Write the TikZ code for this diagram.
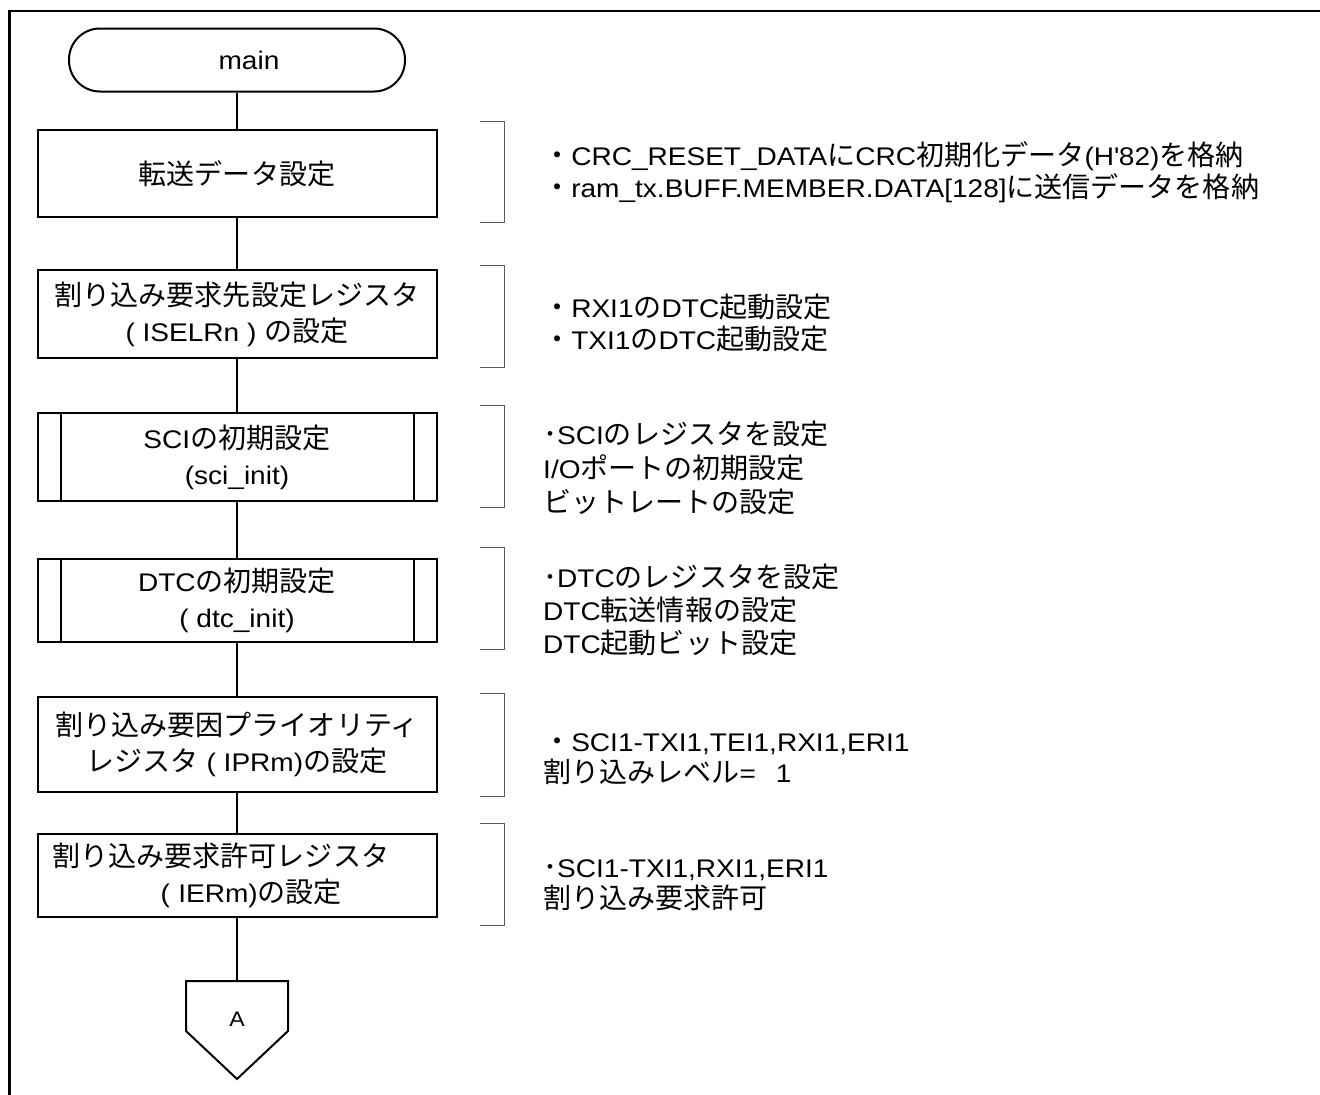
\documentclass[tikz,border=0pt]{standalone}
\usepackage{fontspec}
\setmainfont{Liberation Sans}[FakeStretch=1.1]
\newfontfamily\jpf{Noto Sans CJK JP}[Scale=1.1]
\newcommand\J[1]{{\jpf #1}}
\begin{document}
\begin{tikzpicture}[x=1pt,y=-1pt]
\tikzset{
  flow/.style={draw, line width=2pt, minimum width=399pt, inner sep=0pt, align=center,
    font=\fontsize{25.5}{36}\selectfont},
  term/.style={draw, line width=2pt, rounded corners=31pt, minimum width=336pt,
    minimum height=63pt, inner sep=0pt, font=\fontsize{25.5}{30}\selectfont},
  note/.style={anchor=west, align=left, inner sep=0pt, font=\fontsize{25.5}{32.5}\selectfont},
  brk/.style={draw=black!65, line width=1pt},
  conn/.style={line width=2pt},
  frame/.style={line width=2.5pt},
}
\useasboundingbox (0,0) rectangle (1320,1095);
\draw[frame] (9.5,1095) -- (9.5,11) -- (1320,11);

% flow nodes
\node[term] (main) at (237,60) {\hspace*{24pt}main};
\node[flow, minimum height=87pt] (b1) at (237,173.5) {\J{転送データ設定}};
\node[flow, minimum height=88pt] (b2) at (237,314) {\J{割り込み要求先設定レジスタ}\\( ISELRn ) \J{の設定}};
\node[flow, minimum height=88pt] (b3) at (237,457) {SCI\J{の初期設定}\\(sci\_init)};
\node[flow, minimum height=83pt] (b4) at (237,600.5) {DTC\J{の初期設定}\\( dtc\_init)};
\node[flow, minimum height=95pt] (b5) at (237,744.5) {\J{割り込み要因プライオリティ}\\\J{レジスタ} ( IPRm)\J{の設定}};
\node[flow, minimum height=83pt, align=left, inner xsep=15pt, text width=369pt] (b6) at (237,875.5)
  {\J{割り込み要求許可レジスタ}\\\hspace*{108pt}( IERm)\J{の設定}};

% predefined-process side bars
\draw[conn] ([xshift=24pt]b3.north west) -- ([xshift=24pt]b3.south west);
\draw[conn] ([xshift=-24pt]b3.north east) -- ([xshift=-24pt]b3.south east);
\draw[conn] ([xshift=24pt]b4.north west) -- ([xshift=24pt]b4.south west);
\draw[conn] ([xshift=-24pt]b4.north east) -- ([xshift=-24pt]b4.south east);

% off-page connector A
\coordinate (Atop) at (237,981);
\draw[conn, line join=miter] (186,981) -- (288,981) -- (288,1031) -- (237,1079) -- (186,1031) -- cycle;
\node[font=\fontsize{21}{24}\selectfont, inner sep=0pt] (Alab) at (237,1019) {A};

% connectors
\draw[conn] (main.south) -- (b1.north);
\draw[conn] (b1.south) -- (b2.north);
\draw[conn] (b2.south) -- (b3.north);
\draw[conn] (b3.south) -- (b4.north);
\draw[conn] (b4.south) -- (b5.north);
\draw[conn] (b5.south) -- (b6.north);
\draw[conn] (b6.south) -- (Atop);

% brackets
\draw[brk] (480,121) -- (504,121) -- (504,222) -- (480,222);
\draw[brk] (480,265) -- (504,265) -- (504,367) -- (480,367);
\draw[brk] (480,405) -- (504,405) -- (504,507) -- (480,507);
\draw[brk] (480,547) -- (504,547) -- (504,649) -- (480,649);
\draw[brk] (480,693) -- (504,693) -- (504,796) -- (480,796);
\draw[brk] (480,823) -- (504,823) -- (504,925) -- (480,925);

% notes
\node[note] (n1) at (543,172) {\J{・}CRC\_RESET\_DATA\J{に}CRC\J{初期化データ}(H\textquotesingle82)\J{を格納}\\
  \J{・}ram\_tx.BUFF.MEMBER.DATA[128]\J{に送信データを格納}};
\node[note] (n2) at (543,323) {\J{・}RXI1\J{の}DTC\J{起動設定}\\\J{・}TXI1\J{の}DTC\J{起動設定}};
\node[note, font=\fontsize{25.5}{34}\selectfont] (n3) at (543,468) {\J{･}SCI\J{のレジスタを設定}\\I/O\J{ポートの初期設定}\\\J{ビットレートの設定}};
\node[note, font=\fontsize{25.5}{33}\selectfont] (n4) at (543,609.5) {\J{･}DTC\J{のレジスタを設定}\\DTC\J{転送情報の設定}\\DTC\J{起動ビット設定}};
\node[note, font=\fontsize{25.5}{31}\selectfont] (n5) at (543,759) {\J{・}SCI1-TXI1,TEI1,RXI1,ERI1\\\J{割り込みレベル}=\hspace{20pt}1};
\node[note, font=\fontsize{25.5}{31.5}\selectfont] (n6) at (543,885) {\J{･}SCI1-TXI1,RXI1,ERI1\\\J{割り込み要求許可}};
\end{tikzpicture}
\end{document}
